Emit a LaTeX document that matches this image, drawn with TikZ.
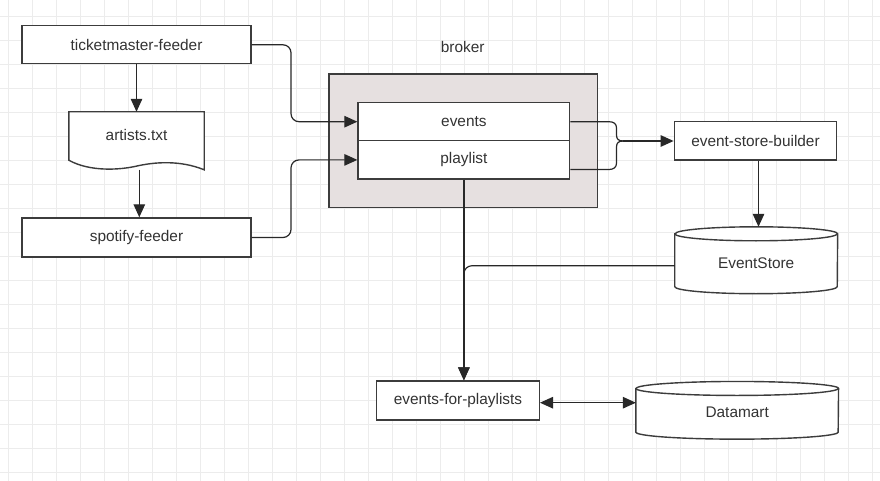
\documentclass[tikz,border=0pt]{standalone}
\usepackage{fontspec}
\setmainfont{Liberation Sans}
\usetikzlibrary{arrows.meta,calc}
\definecolor{gridc}{RGB}{236,236,236}
\definecolor{linec}{RGB}{40,40,40}
\definecolor{boxc}{RGB}{60,60,60}
\definecolor{brokerfill}{RGB}{230,224,224}
\definecolor{txtc}{RGB}{51,51,51}
\tikzset{
  lbl/.style={font=\fontsize{15.4}{18}\selectfont, text=txtc, inner sep=0pt},
  boxn/.style={lbl, draw=boxc, line width=1.4pt, fill=white},
  hidden/.style={lbl, inner sep=0pt},
  shapeline/.style={draw=boxc, line width=1.4pt},
  wire/.style={draw=linec, line width=1.2pt},
  conn/.style={wire, -{Triangle[length=13pt,width=11.5pt]}},
  biconn/.style={wire, {Triangle[length=13pt,width=11.5pt]}-{Triangle[length=13pt,width=11.5pt]}},
}
\begin{document}
\begin{tikzpicture}[x=1pt,y=-1pt]
\useasboundingbox (0,0) rectangle (880,481);
\fill[white] (0,0) rectangle (880,481);
% grid
\foreach \x in {8.3,32.3,...,880} \draw[gridc, line width=1pt] (\x,0) -- (\x,481);
\foreach \y in {16.5,40.5,...,481} \draw[gridc, line width=1pt] (0,\y) -- (880,\y);

% left column
\node[boxn, minimum width=229pt, minimum height=38pt] (tm) at (136.5,44.8) {ticketmaster-feeder};
\node[boxn, minimum width=229pt, minimum height=39pt] (sp) at (136.5,237.5) {spotify-feeder};
\node[hidden, minimum width=135pt, minimum height=48pt] (art) at (136.5,136) {};
\draw[shapeline, fill=white] (art.north west) -- (art.north east) -- ($(art.north east)+(0,58)$)
  .. controls (180,160) and (155,162) .. (137,166)
  .. controls (120,170) and (90,172) .. (art.south west) -- cycle;
\node[lbl] at (136.5,135) {artists.txt};

% broker
\node[lbl] (brlabel) at (462.7,47.3) {broker};
\node[draw=boxc, line width=1.4pt, fill=brokerfill, minimum width=268.7pt, minimum height=133.7pt, inner sep=0pt] (br) at (463.4,140.9) {};
\node[boxn, minimum width=211.7pt, minimum height=38pt] (ev) at (463.9,121.7) {events};
\node[boxn, minimum width=211.7pt, minimum height=38.3pt] (pl) at (463.9,159.9) {playlist};

% right side
\node[boxn, minimum width=162.4pt, minimum height=38.3pt] (esb) at (755.5,140.9) {event-store-builder};
\node[hidden, minimum width=162.5pt, minimum height=66.5pt] (es) at (756.2,260.25) {};
\draw[shapeline, fill=white] ($(es.north west)+(0,7)$) -- ($(es.south west)+(0,-7)$)
  arc[start angle=180, end angle=360, x radius=81.25pt, y radius=7pt]
  -- ($(es.north east)+(0,7)$)
  arc[start angle=0, end angle=180, x radius=81.25pt, y radius=7pt] -- cycle;
\draw[shapeline] ($(es.north west)+(0,7)$) arc[start angle=180, end angle=360, x radius=81.25pt, y radius=7pt];
\node[lbl] at ($(es.center)+(0,3.2)$) {EventStore};

\node[boxn, minimum width=162.6pt, minimum height=39pt] (efp) at (458,400.5) {events-for-playlists};
\node[hidden, minimum width=202.3pt, minimum height=57.3pt] (dm) at (737.2,410.3) {};
\draw[shapeline, fill=white] ($(dm.north west)+(0,7)$) -- ($(dm.south west)+(0,-7)$)
  arc[start angle=180, end angle=360, x radius=101.15pt, y radius=7pt]
  -- ($(dm.north east)+(0,7)$)
  arc[start angle=0, end angle=180, x radius=101.15pt, y radius=7pt] -- cycle;
\draw[shapeline] ($(dm.north west)+(0,7)$) arc[start angle=180, end angle=360, x radius=101.15pt, y radius=7pt];
\node[lbl] at ($(dm.center)+(0,2)$) {Datamart};

% connectors
\draw[conn] (tm.south) -- (art.north);
\coordinate (artout) at ($(art.south)+(2.8,9.5)$);
\draw[conn] (artout) -- (artout |- sp.north);

\coordinate (lx) at (291,0);
\draw[conn, rounded corners=8pt] (tm.east) -| (lx |- ev.west) -- (ev.west);
\draw[conn, rounded corners=8pt] (sp.east) -| (lx |- pl.west) -- (pl.west);

\coordinate (J) at (623,141);
\coordinate (plout) at ($(pl.east)+(0,9.6)$);
\draw[wire] (ev.east) -- (609,121.7) .. controls (614,121.7) and (616.5,124) .. (616.5,128)
  -- (616.5,135) .. controls (616.5,139) and (618.5,141) .. (J);
\draw[wire] (plout) -- (609,169.5) .. controls (614,169.5) and (616.5,167) .. (616.5,163)
  -- (616.5,147) .. controls (616.5,143) and (618.5,141) .. (J);
\draw[conn] (J) -- (J -| esb.west);

\coordinate (esbout) at ($(esb.south)+(3,0)$);
\draw[conn] (esbout) -- (esbout |- es.north);

\coordinate (plbot) at (pl.south);
\draw[conn] (plbot) -- (plbot |- efp.north);
\draw[conn, rounded corners=8pt] ($(es.west)+(0,5.5)$) -| (plbot |- efp.north);

\draw[biconn] ($(efp.east)+(0,2.2)$) -- ($(efp.east -| dm.west)+(0,2.2)$);
\end{tikzpicture}
\end{document}
